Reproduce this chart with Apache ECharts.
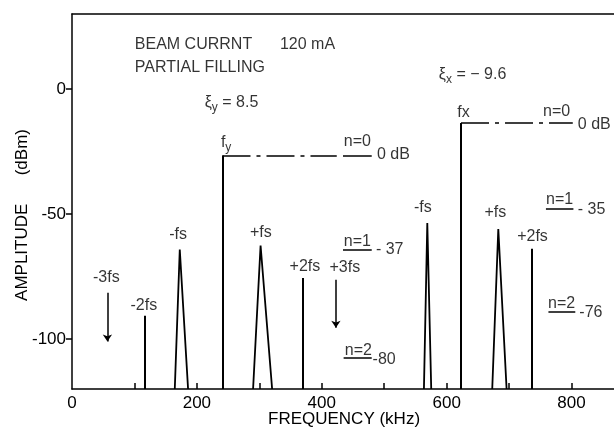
<!DOCTYPE html>
<html>
<head>
<meta charset="utf-8">
<script src="https://cdn.jsdelivr.net/npm/echarts@6/dist/echarts.min.js"></script>
<style>
html, body { margin: 0; padding: 0; background: #fff; }
#chart { width: 614px; height: 430px; }
</style>
</head>
<body>
<div id="chart"></div>
<script>
// beam spectrum, frequency in kHz, amplitude in dBm
const freqRange = [0, 868];
const ampRange = [-120, 30];
const freqLabels = [0, 200, 400, 600, 800];
const freqTicks = [100, 200, 300, 400, 500, 600, 700, 800];
const ampLabels = [0, -50, -100];

// betatron lines fy, fx
const mainFreq = [241, 623];
const mainAmp = [-26.6, -13.6];
const mainRefEnd = [424, 802];   // end of the dash-dot reference level

// single sideband lines: -2fs (y), +2fs (y), +2fs (x)
const lineFreq = [116.5, 370, 736];
const lineAmp = [-90.7, -75.6, -63.9];

// first sidebands drawn as triangles: -fs (y), +fs (y), -fs (x), +fs (x)
const triLeft = [164.6, 290, 563.6, 673];
const triPeak = [172.6, 302, 569, 682.7];
const triRight = [185.9, 320.5, 575.3, 696];
const triAmp = [-64.2, -62.6, -53.6, -56];

// arrows for the missing 3rd sidebands: -3fs, +3fs
const arrowFreq = [56.7, 422.6];
const arrowTop = [-81.5, -76.3];
const arrowBottom = [-101, -95.5];

// fraction bars under the n=.. labels  [from, to, level]
const fracBars = [
    [434, 480, -26.6],
    [434, 480, -64.3],
    [435, 480, -107.6],
    [759, 803, -48],
    [763, 806, -89]
];

// text annotations [text, freq, amp, align]
const notes = [
    ['BEAM CURRNT', 100.6, 17.7, 'left'],
    ['120 mA', 333, 17.7, 'left'],
    ['PARTIAL FILLING', 100.6, 8.5, 'left'],
    ['{t|ξ}{s|y}{t| = 8.5}', 212.5, -5.5, 'left'],
    ['{t|ξ}{s|x}{t| = − 9.6}', 587.5, 5.7, 'left'],
    ['{t|f}{s|y}', 238.5, -21.5, 'left'],
    ['fx', 627, -9.6, 'center'],
    ['n=0', 457, -21, 'center'],
    ['0 dB', 488.3, -26.3, 'left'],
    ['n=0', 776, -9, 'center'],
    ['0 dB', 810, -14.3, 'left'],
    ['-3fs', 55, -75.5, 'center'],
    ['-2fs', 115, -86.7, 'center'],
    ['-fs', 170, -58.3, 'center'],
    ['+fs', 302.4, -57.5, 'center'],
    ['+2fs', 373, -71, 'center'],
    ['+3fs', 437, -71.5, 'center'],
    ['n=1', 457, -61, 'center'],
    ['- 37', 486.7, -64.3, 'left'],
    ['n=2', 458.7, -104.6, 'center'],
    ['-80', 481.4, -108.3, 'left'],
    ['-fs', 562, -47.5, 'center'],
    ['+fs', 678, -49.5, 'center'],
    ['+2fs', 737.5, -59.1, 'center'],
    ['n=1', 780.8, -44.3, 'center'],
    ['- 35', 810, -48.3, 'left'],
    ['n=2', 784, -85.9, 'center'],
    ['-76', 812.5, -89.5, 'left']
];

const FONT = 'Liberation Sans';
const base = ampRange[0];

function seg(x1, y1, x2, y2) {
    return { coords: [[x1, y1], [x2, y2]] };
}

var chart = echarts.init(document.getElementById('chart'));

option = {
    animation: false,
    backgroundColor: '#fff',
    textStyle: { fontFamily: FONT, color: '#000' },
    grid: { left: 72, right: 0, top: 14, bottom: 41 },
    xAxis: [{
        type: 'value',
        min: freqRange[0],
        max: freqRange[1],
        axisLine: { onZero: false, lineStyle: { color: '#000', width: 1.5 } },
        axisTick: { show: true, inside: true, length: 6, customValues: freqTicks,
            lineStyle: { color: '#000', width: 1.5 } },
        axisLabel: { customValues: freqLabels, color: '#000', fontSize: 17, margin: 6, fontFamily: FONT },
        splitLine: { show: false }
    }, {
        type: 'value',
        position: 'top',
        min: freqRange[0],
        max: freqRange[1],
        axisLine: { show: true, onZero: false, lineStyle: { color: '#000', width: 1.5 } },
        axisTick: { show: false },
        axisLabel: { show: false },
        splitLine: { show: false }
    }],
    yAxis: {
        type: 'value',
        min: ampRange[0],
        max: ampRange[1],
        axisLine: { show: true, onZero: false, lineStyle: { color: '#000', width: 1.5 } },
        axisTick: { show: true, length: 6, customValues: ampLabels,
            lineStyle: { color: '#000', width: 1.5 } },
        axisLabel: { customValues: ampLabels, color: '#000', fontSize: 17, margin: 6, fontFamily: FONT },
        splitLine: { show: false }
    },
    graphic: [{
        type: 'text',
        left: 268, top: 411,
        style: { text: 'FREQUENCY (kHz)', font: '17px "Liberation Sans"', fill: '#000' }
    }, {
        type: 'text',
        x: 22, y: 215,
        rotation: Math.PI / 2,
        style: { text: 'AMPLITUDE      (dBm)', font: '17px "Liberation Sans"', fill: '#000',
            align: 'center', verticalAlign: 'middle' }
    }],
    series: [{
        // fy and fx lines
        type: 'lines',
        coordinateSystem: 'cartesian2d',
        data: mainFreq.map((f, i) => seg(f, base, f, mainAmp[i])),
        lineStyle: { color: '#000', width: 2, opacity: 1 },
        z: 3
    }, {
        // dash-dot reference levels (0 dB)
        type: 'lines',
        coordinateSystem: 'cartesian2d',
        data: mainFreq.map((f, i) => seg(f, mainAmp[i], mainRefEnd[i], mainAmp[i])),
        lineStyle: { color: '#000', width: 1.5, opacity: 1, type: [28, 6, 4, 6] },
        z: 3
    }, {
        type: 'lines',
        coordinateSystem: 'cartesian2d',
        data: lineFreq.map((f, i) => seg(f, base, f, lineAmp[i])),
        lineStyle: { color: '#000', width: 2, opacity: 1 },
        z: 3
    }, {
        type: 'lines',
        coordinateSystem: 'cartesian2d',
        polyline: true,
        data: triPeak.map((p, i) => ({
            coords: [[triLeft[i], base], [p, triAmp[i]], [triRight[i], base]]
        })),
        lineStyle: { color: '#000', width: 1.8, opacity: 1 },
        z: 3
    }, {
        type: 'lines',
        coordinateSystem: 'cartesian2d',
        symbol: ['none', 'arrow'],
        symbolSize: 7,
        data: arrowFreq.map((f, i) => seg(f, arrowTop[i], f, arrowBottom[i])),
        lineStyle: { color: '#000', width: 1.5, opacity: 1 },
        z: 3
    }, {
        type: 'lines',
        coordinateSystem: 'cartesian2d',
        data: fracBars.map(b => seg(b[0], b[2], b[1], b[2])),
        lineStyle: { color: '#000', width: 1.5, opacity: 1 },
        z: 3
    }, {
        type: 'scatter',
        symbolSize: 0,
        clip: false,
        silent: true,
        data: notes.map(n => ({
            value: [n[1], n[2]],
            label: {
                show: true,
                position: [0, 0],
                formatter: n[0],
                align: n[3],
                verticalAlign: 'middle',
                color: '#000',
                fontSize: 16,
                fontFamily: FONT,
                rich: {
                    t: { fontSize: 16, fontFamily: FONT, color: '#000' },
                    s: { fontSize: 12, fontFamily: FONT, color: '#000', padding: [9, 0, 0, 0] }
                }
            }
        })),
        z: 4
    }]
};

chart.setOption(option);
</script>
</body>
</html>
